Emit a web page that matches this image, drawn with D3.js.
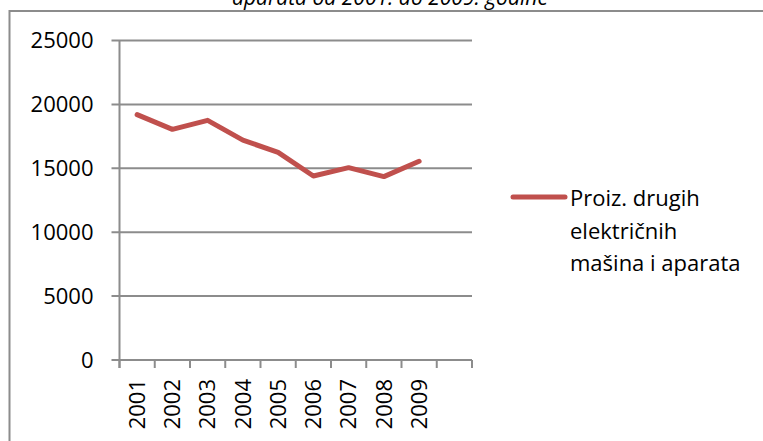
<!DOCTYPE html>
<html>
<head>
<meta charset="utf-8">
<script src="https://cdn.jsdelivr.net/npm/d3@7"></script>
<style>
  html, body { margin: 0; padding: 0; background: #fff; }
  svg { display: block; }
  text { font-family: "Open Sans", Lato, sans-serif; fill: #000; }
</style>
</head>
<body>
<svg id="chart" width="763" height="441"></svg>
<script>
const years = ["2001", "2002", "2003", "2004", "2005", "2006", "2007", "2008", "2009"];
const values = [19200, 18050, 18750, 17200, 16250, 14400, 15050, 14350, 15550];
const yTicks = [0, 5000, 10000, 15000, 20000, 25000];
const seriesName = ["Proiz. drugih", "električnih", "mašina i aparata"];
const titleText = "aparata od 2001. do 2009. godine";

const svg = d3.select("#chart");
const fontSize = 22;
const fontFamily = "'Open Sans', Lato, sans-serif";
const gridColor = "#8c8c8c";
const lineColor = "#c0504d";

// chart border
svg.append("rect")
  .attr("x", 9.5).attr("y", 11)
  .attr("width", 770).attr("height", 460)
  .attr("fill", "none").attr("stroke", gridColor).attr("stroke-width", 2);

// title (second line, partly cut off as in the reference)
svg.append("text")
  .attr("x", 390).attr("y", 5)
  .attr("text-anchor", "middle")
  .style("font-style", "italic")
  .style("font-size", (fontSize - 1) + "px")
  .text(titleText);

const plot = { left: 119.5, right: 472, top: 40.5, bottom: 360 };

// x band: 9 years plus one empty slot
const xDomain = years.concat([""]);
const x = d3.scaleBand().domain(xDomain).range([plot.left, plot.right]).padding(0);
const y = d3.scaleLinear().domain([0, 25000]).range([plot.bottom, plot.top]);

// gridlines
svg.append("g").selectAll("line").data(yTicks).join("line")
  .attr("x1", plot.left - 8).attr("x2", plot.right)
  .attr("y1", d => y(d)).attr("y2", d => y(d))
  .attr("stroke", gridColor).attr("stroke-width", 2);

// y axis
const yAxis = d3.axisLeft(y).tickValues(yTicks).tickSize(0).tickPadding(26).tickFormat(d3.format("d"));
const gy = svg.append("g").attr("transform", `translate(${plot.left},0)`).call(yAxis);
gy.select(".domain").remove();
gy.selectAll("text").style("font-size", fontSize + "px").style("font-family", fontFamily).attr("fill", "#000");

svg.append("line")
  .attr("x1", plot.left).attr("x2", plot.left)
  .attr("y1", plot.top).attr("y2", plot.bottom + 8)
  .attr("stroke", gridColor).attr("stroke-width", 2);

// x tick marks at band boundaries
const boundaries = xDomain.map(d => x(d)).concat([x.range()[1]]);
svg.append("g").selectAll("line").data(boundaries).join("line")
  .attr("x1", d => d).attr("x2", d => d)
  .attr("y1", plot.bottom).attr("y2", plot.bottom + 8)
  .attr("stroke", gridColor).attr("stroke-width", 2);

// x labels
svg.append("g").selectAll("text").data(years).join("text")
  .attr("transform", d => `translate(${x(d) + x.bandwidth() / 2},${plot.bottom + 19}) rotate(-90)`)
  .attr("text-anchor", "end")
  .attr("dy", "0.35em")
  .style("font-size", fontSize + "px")
  .text(d => d);

// data line
const line = d3.line()
  .x((d, i) => x(years[i]) + x.bandwidth() / 2)
  .y(d => y(d));
svg.append("path")
  .datum(values)
  .attr("d", line)
  .attr("fill", "none")
  .attr("stroke", lineColor)
  .attr("stroke-width", 5)
  .attr("stroke-linejoin", "round")
  .attr("stroke-linecap", "round");

// legend
svg.append("line")
  .attr("x1", 513).attr("x2", 565)
  .attr("y1", 197).attr("y2", 197)
  .attr("stroke", lineColor).attr("stroke-width", 5)
  .attr("stroke-linecap", "round");

svg.append("g").selectAll("text").data(seriesName).join("text")
  .attr("x", 570)
  .attr("y", (d, i) => 206 + i * 32.5)
  .style("font-size", fontSize + "px")
  .text(d => d);
</script>
</body>
</html>
